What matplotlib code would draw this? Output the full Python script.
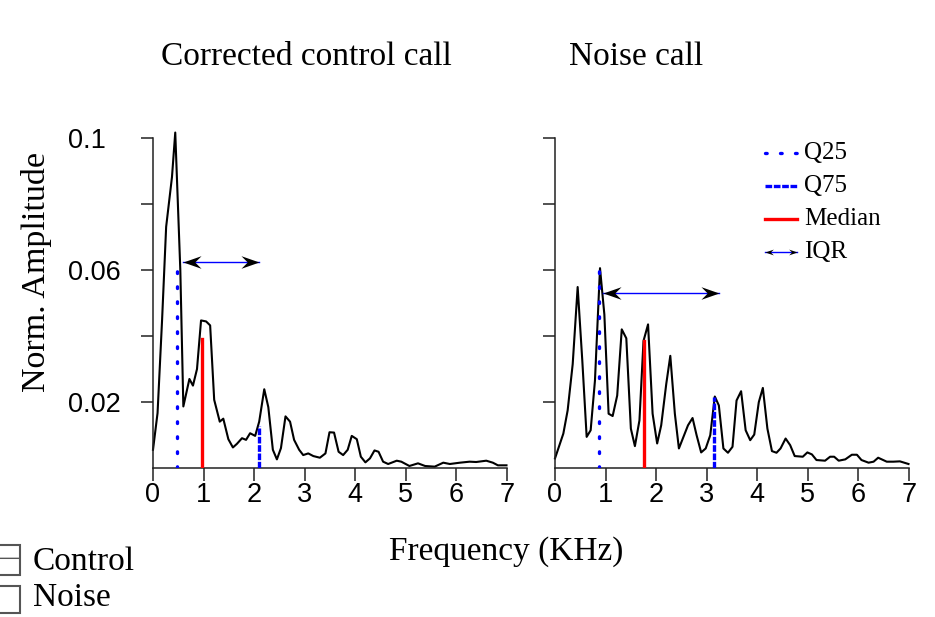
import matplotlib.pyplot as plt
from matplotlib.path import Path
from matplotlib.patches import Rectangle

# spectrum of the corrected control call (kHz, normalised amplitude)
ctrl_freq = [0.0, 0.09, 0.18, 0.26, 0.375, 0.44, 0.54, 0.6, 0.72, 0.79, 0.87, 0.95, 1.05, 1.13,
             1.21, 1.32, 1.39, 1.49, 1.58, 1.66, 1.76, 1.84, 1.92, 2.02, 2.1, 2.2, 2.28, 2.37,
             2.45, 2.53, 2.62, 2.71, 2.79, 2.89, 2.97, 3.07, 3.17, 3.3, 3.41, 3.49, 3.58, 3.67,
             3.76, 3.85, 3.93, 4.03, 4.11, 4.2, 4.29, 4.38, 4.46, 4.55, 4.65, 4.82, 4.91, 5.07,
             5.24, 5.38, 5.57, 5.74, 5.87, 6.07, 6.26, 6.39, 6.59, 6.72, 6.82, 6.99]
ctrl_amp = [0.0056, 0.0167, 0.045, 0.073, 0.088, 0.1015, 0.060, 0.0187, 0.027, 0.025, 0.030,
            0.0447, 0.0444, 0.0432, 0.0207, 0.0141, 0.015, 0.0088, 0.0063, 0.0074, 0.0091,
            0.0086, 0.0106, 0.0098, 0.0141, 0.0239, 0.0185, 0.0056, 0.0027, 0.0061, 0.0157,
            0.0141, 0.0086, 0.0056, 0.004, 0.0045, 0.0037, 0.0032, 0.0045, 0.0109, 0.0108,
            0.005, 0.004, 0.0056, 0.0098, 0.0088, 0.0035, 0.0018, 0.003, 0.0054, 0.005, 0.002,
            0.0013, 0.0023, 0.002, 0.0007, 0.0015, 0.0007, 0.0005, 0.0017, 0.0013, 0.0017,
            0.002, 0.0019, 0.0023, 0.0017, 0.0009, 0.0009]

# spectrum of the noise call
noise_freq = [0.0, 0.165, 0.25, 0.35, 0.448, 0.54, 0.626, 0.705, 0.79, 0.89, 0.976, 1.06, 1.14,
              1.23, 1.32, 1.41, 1.5, 1.58, 1.67, 1.75, 1.84, 1.93, 2.02, 2.1, 2.2, 2.28, 2.37,
              2.45, 2.54, 2.63, 2.72, 2.8, 2.89, 2.98, 3.07, 3.16, 3.24, 3.33, 3.42, 3.51, 3.59,
              3.68, 3.77, 3.86, 3.94, 4.03, 4.11, 4.2, 4.29, 4.38, 4.46, 4.56, 4.65, 4.74, 4.9,
              4.99, 5.08, 5.17, 5.34, 5.44, 5.52, 5.61, 5.74, 5.87, 5.97, 6.06, 6.2, 6.3, 6.39,
              6.56, 6.69, 6.82, 6.99]
noise_amp = [0.003, 0.0105, 0.0175, 0.0315, 0.0548, 0.0325, 0.0095, 0.0115, 0.0265, 0.0605,
             0.0465, 0.0165, 0.0158, 0.022, 0.042, 0.0393, 0.012, 0.0067, 0.0145, 0.0385,
             0.0435, 0.0165, 0.0075, 0.013, 0.0255, 0.034, 0.0165, 0.006, 0.0095, 0.013,
             0.0152, 0.01, 0.0048, 0.006, 0.01, 0.0217, 0.019, 0.006, 0.0047, 0.0065, 0.0205,
             0.0233, 0.0115, 0.0085, 0.0102, 0.02, 0.0243, 0.012, 0.0052, 0.0047, 0.006, 0.009,
             0.007, 0.0037, 0.0035, 0.0048, 0.0042, 0.0025, 0.0023, 0.0035, 0.0035, 0.0023,
             0.0027, 0.0041, 0.0041, 0.0025, 0.0017, 0.002, 0.0032, 0.002, 0.002, 0.0021,
             0.0013]

# quartiles for [control, noise]: position and height of the marker lines
q25 = [0.47, 0.877]
q25_h = [0.062, 0.0613]
median = [0.967, 1.753]
median_h = [0.039, 0.0385]
q75 = [2.1, 3.145]
q75_h = [0.0128, 0.0217]
iqr_from = [0.59, 0.956]
iqr_to = [2.1, 3.25]
iqr_y = [0.0623, 0.053]

titles = ['Corrected control call', 'Noise call']
yticks = [0.02, 0.04, 0.06, 0.08, 0.1]
ytick_labels = ['0.02', '', '0.06', '', '0.1']
xticks = [0, 1, 2, 3, 4, 5, 6, 7]

serif = 'Liberation Serif'
sans = 'Liberation Sans'
dotted = (0, (0.5, 4.0))
dashed = (0, (2.0, 0.5))

# stealth-like arrow heads, tip at the origin
head_r = Path([(0, 0), (-1, 0.35), (-0.65, 0), (-1, -0.35), (0, 0)],
              [Path.MOVETO, Path.LINETO, Path.LINETO, Path.LINETO, Path.CLOSEPOLY])
head_l = Path([(0, 0), (1, 0.35), (0.65, 0), (1, -0.35), (0, 0)],
              [Path.MOVETO, Path.LINETO, Path.LINETO, Path.LINETO, Path.CLOSEPOLY])


def iqr_arrow(ax, x0, x1, y, ms, lw, **kw):
    ax.plot([x0, x1], [y, y], color='blue', lw=lw, **kw)
    ax.plot([x0], [y], marker=head_l, ms=ms, color='black', mec='black', mew=0, ls='none', **kw)
    ax.plot([x1], [y], marker=head_r, ms=ms, color='black', mec='black', mew=0, ls='none', **kw)


fig = plt.figure(figsize=(9.35, 6.17), dpi=100)
axes = [fig.add_axes([153 / 935, 148.7 / 617, 354 / 935, 330.8 / 617]),
        fig.add_axes([555 / 935, 148.7 / 617, 354 / 935, 330.8 / 617])]

for i, ax in enumerate(axes):
    freq = ctrl_freq if i == 0 else noise_freq
    amp = ctrl_amp if i == 0 else noise_amp
    ax.plot(freq, amp, color='black', lw=1.5, clip_on=False, zorder=2)
    ax.plot([q25[i], q25[i]], [0, q25_h[i]], color='blue', lw=2.4, ls=dotted,
            dash_capstyle='round', zorder=3)
    ax.plot([median[i], median[i]], [0, median_h[i]], color='red', lw=2.4, zorder=3)
    ax.plot([q75[i], q75[i]], [0, q75_h[i]], color='blue', lw=2.4, ls=dashed, zorder=3)
    iqr_arrow(ax, iqr_from[i], iqr_to[i], iqr_y[i], ms=26, lw=1.0, zorder=4)

    ax.set_xlim(0, 7)
    ax.set_ylim(0, 0.1)
    for s in ['top', 'right']:
        ax.spines[s].set_visible(False)
    for s in ['left', 'bottom']:
        ax.spines[s].set_linewidth(1.1)
        ax.spines[s].set_color('#222222')
    ax.set_xticks(xticks)
    ax.set_xticklabels([str(t) for t in xticks], fontfamily=sans, fontsize=19.5)
    ax.set_yticks(yticks)
    if i == 0:
        ax.set_yticklabels(ytick_labels, fontfamily=sans, fontsize=19.5, ha='left')
        ax.tick_params(axis='y', pad=52)
    else:
        ax.set_yticklabels([])
    ax.tick_params(direction='out', length=9, width=1.1, color='#222222')
    ax.tick_params(axis='x', pad=1)

# legend inside the noise panel
lg = axes[1]
rows = [0.953, 0.853, 0.754, 0.654]
lg.plot([0.593, 0.684], [rows[0]] * 2, transform=lg.transAxes, color='blue', lw=2.4,
        ls=dotted, dash_capstyle='round', clip_on=False)
lg.plot([0.593, 0.684], [rows[1]] * 2, transform=lg.transAxes, color='blue', lw=2.4,
        ls=dashed, clip_on=False)
lg.plot([0.593, 0.684], [rows[2]] * 2, transform=lg.transAxes, color='red', lw=2.4,
        clip_on=False)
iqr_arrow(lg, 0.593, 0.684, rows[3], ms=12, lw=1.0, transform=lg.transAxes, clip_on=False)
for r, lab in zip(rows, ['Q25', 'Q75', 'Median', 'IQR']):
    lg.text(0.703, r, lab, transform=lg.transAxes, fontfamily=serif, fontsize=18,
            va='center', ha='left')

# titles and axis labels
for i, t in enumerate(titles):
    fig.text([306 / 935, 636 / 935][i], 1 - 57 / 617, t, fontfamily=serif, fontsize=24,
             ha='center', va='center')
fig.text(37 / 935, 1 - 272 / 617, 'Norm. Amplitude', fontfamily=serif, fontsize=24.5,
         rotation=90, ha='center', va='center')
fig.text(506 / 935, 1 - 552 / 617, 'Frequency (KHz)', fontfamily=serif, fontsize=24,
         ha='center', va='center')

# group legend at the bottom left (partly off the figure)
fig.add_artist(Rectangle((-0.03, 1 - 575 / 617), 0.03 + 20 / 935, 30 / 617,
                         transform=fig.transFigure, facecolor='white', edgecolor='#555555',
                         lw=1.5, hatch='-'))
fig.add_artist(Rectangle((-0.03, 1 - 613 / 617), 0.03 + 20 / 935, 27 / 617,
                         transform=fig.transFigure, facecolor='white', edgecolor='#555555',
                         lw=1.5))
fig.text(33 / 935, 1 - 562 / 617, 'Control', fontfamily=serif, fontsize=24, va='center')
fig.text(33 / 935, 1 - 598 / 617, 'Noise', fontfamily=serif, fontsize=24, va='center')

fig.savefig('out.png', dpi=100)
